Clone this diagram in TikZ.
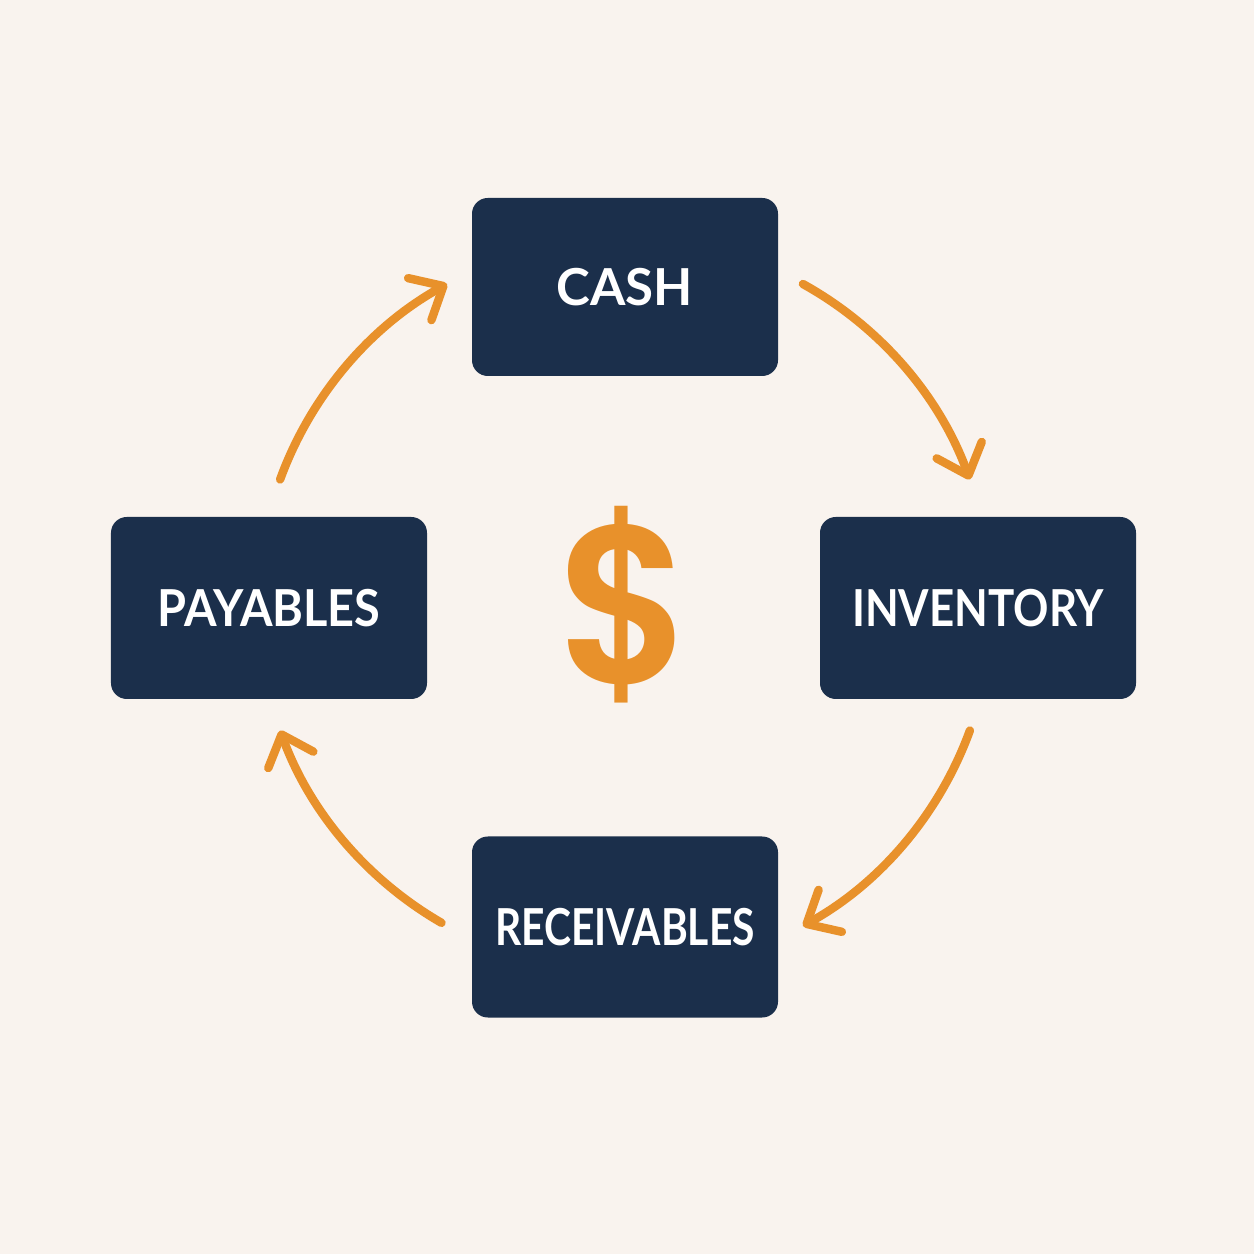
\documentclass[tikz,border=0pt]{standalone}
\usepackage{fontspec}
\setmainfont{Lato}
\newfontfamily\dollarfont{Poppins SemiBold}
\usepackage{graphicx}
\usepackage{tikz}
\usetikzlibrary{positioning, arrows.meta}
\definecolor{navy}{HTML}{1B2F4B}
\definecolor{flowor}{HTML}{E8912B}
\definecolor{paper}{HTML}{F9F3EE}

\begin{document}
\begin{tikzpicture}[
        box/.style  = {fill=navy, rounded corners=4.5pt, inner sep=0pt, minimum height=17.8mm, minimum width=30.6mm, align=center, text=white, font=\fontsize{14.5}{16}\selectfont\bfseries},
        wide/.style = {box, minimum height=18.2mm, minimum width=31.6mm},
        flow/.style = {draw=flowor, line width=2.4pt, line cap=round, -{Straight Barb[length=2.7mm, width=4.8mm, round]}},
    ]
        \fill[paper] (-6.25,-6.47) rectangle (6.29,6.07);
        \useasboundingbox (-6.25,-6.47) rectangle (6.29,6.07);
        \node[text=flowor, font=\dollarfont\fontsize{64}{64}\selectfont] (hub) at (0,0.02) {\scalebox{0.92}[1]{\$}};
        \node[box] (cash) at (0,3.2) {CASH};
        \node[wide] (pay) at (-3.56,-0.01) {\scalebox{0.92}[1]{PAYABLES}};
        \node[wide] (inv) at (3.53,-0.01) {\scalebox{0.86}[1]{INVENTORY}};
        \node[box, minimum height=18.1mm] (rec) at (0,-3.2) {\scalebox{0.8}[1]{RECEIVABLES}};
        \draw[flow] ([shift={(61:3.67)}]hub.center) arc[start angle=61, end angle=20, radius=3.67];
        \draw[flow] ([shift={(-20:3.67)}]hub.center) arc[start angle=-20, end angle=-61, radius=3.67];
        \draw[flow] ([shift={(-120:3.67)}]hub.center) arc[start angle=-120, end angle=-160, radius=3.67];
        \draw[flow] ([shift={(160:3.67)}]hub.center) arc[start angle=160, end angle=119, radius=3.67];
    \end{tikzpicture}
\end{document}
